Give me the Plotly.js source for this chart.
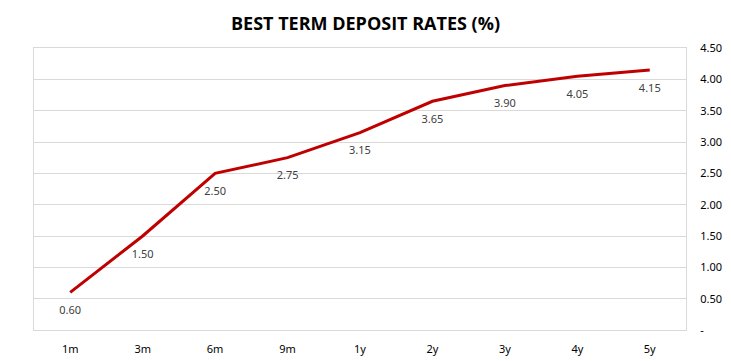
<!DOCTYPE html>
<html>
<head>
<meta charset="utf-8">
<script src="https://cdn.plot.ly/plotly-3.0.1.min.js"></script>
<style>html,body{margin:0;padding:0;background:#fff;}#chart{width:731px;height:361px;}</style>
</head>
<body>
<div id="chart"></div>
<script>
const terms = ['1m','3m','6m','9m','1y','2y','3y','4y','5y'];
const rates = [0.60, 1.50, 2.50, 2.75, 3.15, 3.65, 3.90, 4.05, 4.15];
const yTickVals = [0, 0.5, 1, 1.5, 2, 2.5, 3, 3.5, 4, 4.5];
const yTickText = ['-', '0.50', '1.00', '1.50', '2.00', '2.50', '3.00', '3.50', '4.00', '4.50'];

const trace = {
  x: terms,
  y: rates,
  type: 'scatter',
  mode: 'lines+markers+text',
  line: {color: '#C00000', width: 3},
  marker: {size: 20, color: 'rgba(0,0,0,0)', line: {width: 0}},
  text: rates.map(v => v.toFixed(2)),
  textposition: 'bottom center',
  textfont: {family: 'Noto Sans, sans-serif', size: 11, color: '#404040'},
  cliponaxis: false,
  hoverinfo: 'skip',
  showlegend: false
};

const layout = {
  width: 731, height: 361,
  margin: {l: 34, r: 45, t: 48, b: 31},
  paper_bgcolor: '#fff', plot_bgcolor: '#fff',
  title: {
    text: '<b>BEST TERM DEPOSIT RATES (%)</b>',
    x: 0.5, xanchor: 'center', y: 0.935, yanchor: 'middle', yref: 'container',
    font: {family: 'Open Sans, sans-serif', size: 18, color: '#000'}
  },
  xaxis: {
    type: 'category',
    range: [-0.5, terms.length - 0.5],
    showgrid: false,
    showline: true, mirror: true, linecolor: '#d9d9d9', linewidth: 1,
    ticks: 'outside', ticklen: 9, tickcolor: 'rgba(0,0,0,0)',
    tickfont: {family: 'Noto Sans, sans-serif', size: 11, color: '#000'},
    fixedrange: true
  },
  yaxis: {
    side: 'right',
    range: [0, 4.5],
    tickvals: yTickVals, ticktext: yTickText,
    showgrid: true, gridcolor: '#d9d9d9', gridwidth: 1,
    zeroline: false,
    showline: true, mirror: true, linecolor: '#d9d9d9', linewidth: 1,
    ticks: 'outside', ticklen: 11, tickcolor: 'rgba(0,0,0,0)',
    tickfont: {family: 'Noto Sans, sans-serif', size: 11, color: '#000'},
    fixedrange: true
  }
};

Plotly.newPlot('chart', [trace], layout, {displayModeBar: false, staticPlot: true});
</script>
</body>
</html>
